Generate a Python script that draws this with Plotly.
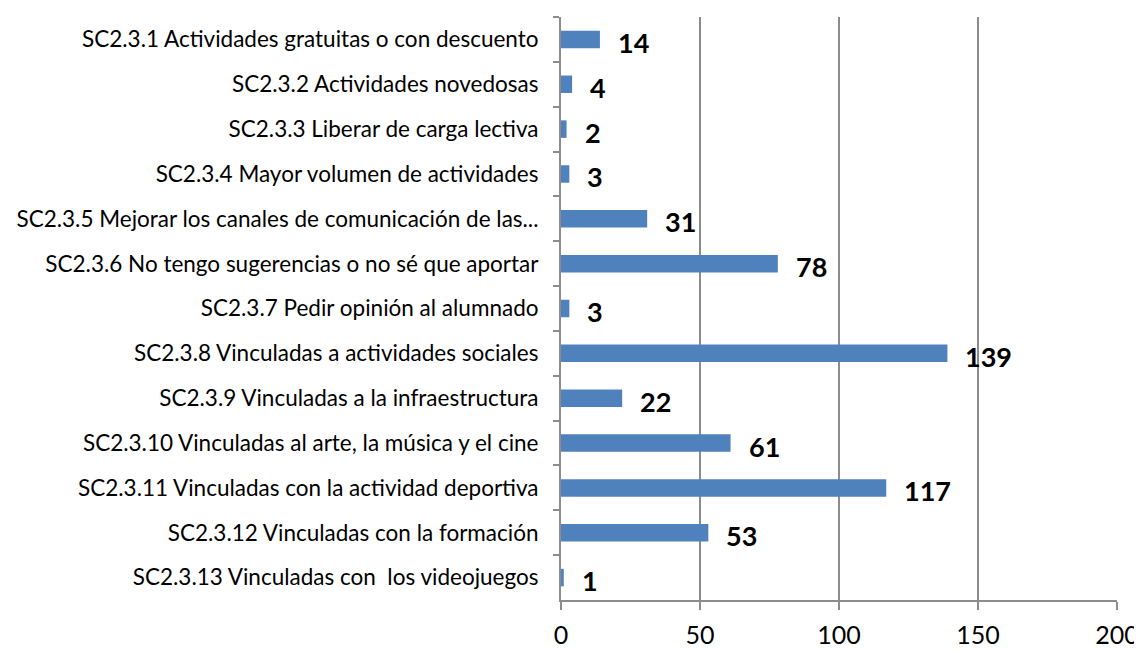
import plotly.graph_objects as go

categories = [
    "SC2.3.1 Actividades gratuitas o con descuento",
    "SC2.3.2 Actividades novedosas",
    "SC2.3.3 Liberar de carga lectiva",
    "SC2.3.4 Mayor volumen de actividades",
    "SC2.3.5 Mejorar los canales de comunicación de las...",
    "SC2.3.6 No tengo sugerencias o no sé que aportar",
    "SC2.3.7 Pedir opinión al alumnado",
    "SC2.3.8 Vinculadas a actividades sociales",
    "SC2.3.9 Vinculadas a la infraestructura",
    "SC2.3.10 Vinculadas al arte, la música y el cine",
    "SC2.3.11 Vinculadas con la actividad deportiva",
    "SC2.3.12 Vinculadas con la formación",
    "SC2.3.13 Vinculadas con  los videojuegos",
]
values = [14, 4, 2, 3, 31, 78, 3, 139, 22, 61, 117, 53, 1]
x_ticks = [0, 50, 100, 150, 200]

fig = go.Figure()
fig.add_trace(go.Bar(
    x=values, y=categories, orientation="h",
    marker=dict(color="#4F81BD", line=dict(width=0)),
    width=0.39,
))

for c, v in zip(categories, values):
    fig.add_annotation(
        x=v, y=c, text=str(v), showarrow=False,
        xanchor="left", yanchor="middle", xshift=16, yshift=-3,
        font=dict(family="Lato", size=27, color="#000000", weight="bold"),
    )

fig.update_layout(
    width=1142, height=650,
    margin=dict(l=553, r=33, t=9, b=58),
    plot_bgcolor="#ffffff", paper_bgcolor="#ffffff",
    showlegend=False,
    font=dict(family="Lato", color="#000000"),
)
fig.update_xaxes(
    range=[0, 200], tickvals=x_ticks, showgrid=True, gridcolor="#8c8c8c", gridwidth=2,
    showline=True, linecolor="#8c8c8c", linewidth=2, ticks="outside", ticklen=8,
    tickcolor="#8c8c8c", tickwidth=2, tickfont=dict(size=25, color="#000000"),
    zeroline=False, ticklabelstandoff=4, automargin=False,
)
fig.update_yaxes(
    autorange="reversed", showline=True, linecolor="#8c8c8c", linewidth=2,
    ticks="outside", tickson="boundaries", ticklen=6, tickcolor="#8c8c8c", tickwidth=2,
    tickfont=dict(size=22.5, color="#000000"), ticklabelstandoff=16, showgrid=False,
    automargin=False,
)

fig.write_html("out.html")
